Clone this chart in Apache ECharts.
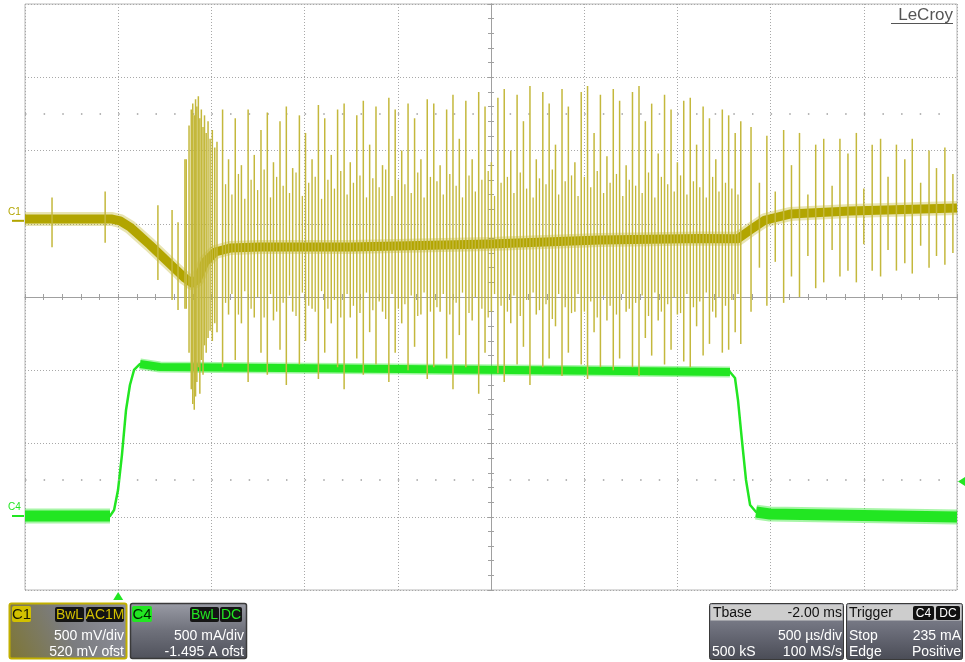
<!DOCTYPE html>
<html><head><meta charset="utf-8">
<script src="https://cdn.jsdelivr.net/npm/echarts@6/dist/echarts.min.js"></script>
<style>html,body{margin:0;padding:0;background:#fff}#c{width:965px;height:662px}</style>
</head><body><div id="c"></div>
<script>
// ---- channel settings (from the scope panels) ----
const c1ScaleMV = 500, c1OffsetMV = 520;      // C1: 500 mV/div, 520 mV ofst
const c4ScaleMA = 500, c4OffsetMA = -1495;    // C4: 500 mA/div, -1.495 A ofst
const tDivUS = 500, tLeftUS = -500;           // 500 µs/div, trigger 1 div from left
const triggerLevelMA = 235;

// ---- C1 trace (time µs, mV) ----
const c1Time = [-500, -33, 10, 63, 171, 278, 358, 396, 423, 466, 520, 600, 761, 1244, 1995, 2585, 3121, 3325, 3390, 3470, 3604, 3926, 4500];
const c1MV   = [12, 12, -1, -42, -165, -295, -391, -425, -404, -281, -213, -186, -179, -179, -158, -131, -120, -122, -63, 5, 46, 67, 87];

// ---- C4 trace (time µs, mA) ----
const c4Time = [-500, -44, -22, -1, 20, 42, 63, 85, 117, 224, 1512, 3282, 3309, 3325, 3346, 3368, 3390, 3422, 3497, 4500];
const c4MA   = [0, 0, 41, 177, 416, 724, 894, 997, 1038, 1017, 1003, 983, 942, 792, 519, 246, 75, 27, 14, -7];

// ---- C1 ringing spikes, main (time µs, top mV, bottom mV) ----
const spikeTime = [-355, -70, 213, 289, 321, 358,
 365, 380, 392, 400, 408, 415, 422, 430, 438, 446, 455, 463, 472, 482, 493, 505, 518, 530,
 560, 592, 628, 661, 697, 730, 766, 800, 833, 868, 902, 936, 972, 1005, 1040, 1074, 1108, 1143, 1177, 1212, 1245, 1280, 1315, 1349, 1383, 1418, 1452, 1486, 1521, 1555, 1590, 1624, 1658, 1693, 1727, 1762, 1796, 1830, 1865, 1899, 1934, 1968, 2002, 2037, 2071, 2106, 2140, 2174, 2209, 2243, 2278, 2312, 2346, 2381, 2415, 2450, 2484, 2518, 2553, 2587, 2622, 2656, 2690, 2725, 2759, 2794, 2828, 2862, 2897, 2931, 2966, 3000, 3034, 3069, 3103, 3138, 3172, 3206, 3241, 3275, 3310, 3340,
 3395, 3440, 3480, 3525, 3570, 3612, 3655, 3700, 3742, 3785, 3830, 3872, 3915, 3960, 4000, 4045, 4090, 4130, 4175, 4220, 4260, 4305, 4350, 4390, 4435, 4478];
const spikeTop = [160, 200, 107, 74, -9, 420,
 420, 650, 760, 800, 720, 830, 780, 850, 700, 760, 640, 720, 600, 680, 560, 620, 500, 540,
 760, 420, 700, 380, 760, 450, 620, 740, 400, 680, 780, 360, 720, 600, 420, 790, 700, 450, 760, 800, 400, 720, 820, 520, 780, 380, 840, 760, 480, 800, 700, 420, 830, 800, 380, 760, 860, 560, 820, 420, 880, 780, 400, 840, 900, 480, 860, 680, 920, 420, 880, 800, 520, 900, 780, 400, 880, 920, 600, 860, 440, 900, 820, 380, 880, 920, 680, 800, 460, 860, 760, 400, 820, 840, 520, 780, 700, 420, 760, 720, 600, 680,
 640, 260, 580, 200, 620, 380, 600, 180, 520, 560, 240, 560, 460, 600, 220, 520, 560, 300, 520, 420, 560, 260, 480, 360, 500, 320];
const spikeBot = [-180, -150, -404, -541, -609, -600,
 -600, -900, -1150, -1250, -1290, -1200, -1100, -1000, -1180, -950, -1050, -850, -900, -800, -750, -820, -700, -760,
 -1000, -640, -950, -700, -1100, -660, -900, -1050, -680, -880, -1120, -620, -980, -820, -600, -1080, -900, -700, -1000, -1150, -660, -940, -1050, -760, -980, -620, -1100, -900, -700, -1020, -860, -640, -1080, -1000, -620, -940, -1150, -780, -1000, -680, -1180, -900, -620, -1040, -1100, -700, -980, -860, -1120, -640, -1000, -940, -720, -1060, -900, -620, -980, -1080, -760, -1000, -680, -1020, -940, -620, -1000, -1060, -800, -920, -680, -980, -880, -640, -960, -1000, -720, -920, -840, -660, -900, -880, -760, -840,
 -620, -320, -580, -280, -560, -380, -520, -240, -460, -420, -200, -380, -340, -420, -160, -340, -380, -200, -340, -290, -360, -170, -320, -240, -300, -220];

// ---- C1 ringing spikes, smaller ones in between ----
const minorTime = [576, 610, 645, 679, 713, 748, 783, 817, 850, 885, 919, 954, 988, 1022, 1057, 1091, 1125, 1160, 1194, 1228, 1262, 1297, 1332, 1366, 1400, 1435, 1469, 1503, 1538, 1572, 1607, 1641, 1675, 1710, 1744, 1779, 1813, 1847, 1882, 1916, 1951, 1985, 2019, 2054, 2088, 2123, 2157, 2191, 2226, 2260, 2295, 2329, 2363, 2398, 2432, 2467, 2501, 2535, 2570, 2604, 2639, 2673, 2707, 2742, 2776, 2811, 2845, 2879, 2914, 2948, 2983, 3017, 3051, 3086, 3120, 3155, 3189, 3223, 3258, 3292, 3325];
const minorTop  = [250, 180, 320, 150, 280, 210, 350, 160, 300, 240, 190, 330, 170, 260, 300, 150, 280, 220, 340, 180, 260, 310, 160, 290, 230, 350, 170, 280, 250, 190, 330, 160, 300, 270, 180, 320, 240, 160, 310, 200, 280, 340, 170, 260, 300, 190, 330, 220, 160, 290, 250, 350, 180, 270, 310, 170, 300, 230, 340, 190, 260, 320, 170, 280, 240, 190, 330, 160, 300, 250, 200, 310, 180, 270, 230, 160, 300, 200, 260, 220, 180];
const minorBot  = [-560, -500, -640, -480, -600, -520, -660, -500, -620, -560, -510, -650, -490, -580, -620, -480, -600, -540, -660, -500, -580, -630, -490, -610, -550, -670, -500, -600, -570, -510, -650, -490, -620, -590, -500, -640, -560, -490, -630, -520, -600, -660, -500, -580, -620, -510, -650, -540, -490, -610, -570, -670, -500, -590, -630, -500, -620, -550, -660, -510, -580, -640, -500, -600, -560, -510, -650, -490, -620, -570, -520, -630, -500, -590, -550, -490, -620, -520, -580, -540, -500];

const C1_COLOR = '#b2a500', SPIKE_COLOR = '#c4b83c', C4_COLOR = '#22e622';
const FONT = '"Liberation Sans", Arial, sans-serif';

const chart = echarts.init(document.getElementById('c'));
const zip2 = (a, b) => a.map((v, i) => [v, b[i]]);
const zip3 = (a, b, c) => a.slice(0, Math.min(a.length, b.length, c.length)).map((v, i) => [v, b[i], c[i]]);
const spikes = zip3(spikeTime, spikeTop, spikeBot);
const minorSpikes = zip3(minorTime, minorTop, minorBot);

const c1Data = zip2(c1Time, c1MV);
const c4Data = zip2(c4Time, c4MA);
// flat (noisy, thick) parts of C4 vs. fast edges
const c4LowA = c4Data.slice(0, 2), c4High = c4Data.slice(8, 12), c4LowB = c4Data.slice(17);

const gridLine = '#a8a8a8';
const decoX = (pos) => ({
  type: 'value', min: -5, max: 5, interval: 1, position: pos,
  axisLine: { show: true, onZero: true, onZeroAxisIndex: 0, lineStyle: { color: '#a0a0a0', width: 1 } },
  axisTick: { show: true, length: 3, lineStyle: { color: '#a0a0a0' } },
  minorTick: { show: true, splitNumber: 5, length: 3, lineStyle: { color: '#a0a0a0' } },
  splitLine: { show: pos === 'bottom', lineStyle: { color: gridLine, type: [1, 2], width: 1 } },
  axisLabel: { show: false }
});
const decoY = (pos) => ({
  type: 'value', min: -4, max: 4, interval: 1, position: pos,
  axisLine: { show: true, onZero: true, onZeroAxisIndex: 0, lineStyle: { color: '#a0a0a0', width: 1 } },
  axisTick: { show: true, length: 3, lineStyle: { color: '#a0a0a0' } },
  minorTick: { show: true, splitNumber: 5, length: 3, lineStyle: { color: '#a0a0a0' } },
  splitLine: { show: pos === 'left', lineStyle: { color: gridLine, type: [1, 2], width: 1 } },
  axisLabel: { show: false }
});

const lineSeries = (data, width, color, yIdx, z, opacity) => ({
  type: 'line', data, xAxisIndex: 2, yAxisIndex: yIdx, showSymbol: false, symbol: 'none',
  lineStyle: { color, width, join: 'round', cap: 'butt', opacity: opacity == null ? 1 : opacity }, z, silent: true, smooth: false
});
const spikeSeries = (data, color, width) => ({
  type: 'custom', xAxisIndex: 2, yAxisIndex: 2, data, z: 5, silent: true, clip: true,
  renderItem: (params, api) => {
    const a = api.coord([api.value(0), api.value(1)]);
    const b = api.coord([api.value(0), api.value(2)]);
    return { type: 'line', shape: { x1: a[0], y1: a[1], x2: b[0], y2: b[1] },
      style: { stroke: color, lineWidth: width } };
  }
});

chart.setOption({
  animation: false,
  backgroundColor: '#ffffff',
  grid: { left: 25, right: 8, top: 4, bottom: 72, show: true, borderColor: '#b8b8b8', borderWidth: 1, containLabel: false },
  xAxis: [decoX('bottom'), decoX('top'),
    { type: 'value', min: tLeftUS, max: tLeftUS + 10 * tDivUS, show: false }],
  yAxis: [decoY('left'), decoY('right'),
    { type: 'value', min: -4 * c1ScaleMV - c1OffsetMV, max: 4 * c1ScaleMV - c1OffsetMV, show: false },
    { type: 'value', min: -4 * c4ScaleMA - c4OffsetMA, max: 4 * c4ScaleMA - c4OffsetMA, show: false }],
  series: [
    // dotted rows of sub-division marks at ±2.5 div
    { type: 'line', data: [], xAxisIndex: 0, yAxisIndex: 0, silent: true,
      markLine: { symbol: 'none', silent: true, label: { show: false },
        lineStyle: { color: '#a0a0a0', type: [1.5, 17.14], width: 1.5 },
        data: [{ yAxis: 2.5 }, { yAxis: -2.5 }] } },
    lineSeries(c1Data, 14, C1_COLOR, 2, 3, 0.3),
    lineSeries(c1Data, 9, C1_COLOR, 2, 3),
    lineSeries(c4Data, 2.5, C4_COLOR, 3, 4),
    lineSeries(c4LowA, 15, C4_COLOR, 3, 4, 0.4),
    lineSeries(c4LowA, 11, C4_COLOR, 3, 4),
    lineSeries(c4High, 11, C4_COLOR, 3, 4, 0.4),
    lineSeries(c4High, 8, C4_COLOR, 3, 4),
    lineSeries(c4LowB, 15, C4_COLOR, 3, 4, 0.4),
    lineSeries(c4LowB, 11, C4_COLOR, 3, 4),
    spikeSeries(minorSpikes, SPIKE_COLOR, 1.3),
    spikeSeries(spikes, SPIKE_COLOR, 1.5)
  ]
});

// ---- scope UI overlay ----
function txt(x, y, s, color, size, align, weight) {
  return { type: 'text', x, y, silent: true, z: 20,
    style: { text: s, fill: color, font: `${weight || 'normal'} ${size}px ${FONT}`,
      align: align || 'left', textAlign: align || 'left', verticalAlign: 'middle', textVerticalAlign: 'middle' } };
}
function rect(x, y, w, h, fill, stroke, lw, r) {
  return { type: 'rect', silent: true, z: 19, shape: { x, y, width: w, height: h, r: r || 0 },
    style: { fill, stroke: stroke || null, lineWidth: lw || 0 } };
}
function badge(x, y, w, h, bg, fg, s, size) {
  return [rect(x, y, w, h, bg, null, 0, 2), txt(x + w / 2, y + h / 2 + 0.5, s, fg, size || 14, 'center')];
}
const LG = (x0, y0, x1, y1, stops) => new echarts.graphic.LinearGradient(x0, y0, x1, y1, stops.map((c, i) => ({ offset: i / (stops.length - 1), color: c })));

const c1Zero = chart.convertToPixel({ yAxisIndex: 2 }, 0);
const c4Zero = chart.convertToPixel({ yAxisIndex: 3 }, 0);
const trigY = chart.convertToPixel({ yAxisIndex: 3 }, triggerLevelMA);
const trigX = chart.convertToPixel({ xAxisIndex: 2 }, 0);
const plotBottom = 590;

const g = [];
// channel zero markers
g.push(txt(8, c1Zero - 9, 'C1', C1_COLOR, 10, 'left'));
g.push({ type: 'line', silent: true, z: 20, shape: { x1: 12, y1: c1Zero, x2: 24, y2: c1Zero }, style: { stroke: C1_COLOR, lineWidth: 2 } });
g.push(txt(8, c4Zero - 9, 'C4', C4_COLOR, 10, 'left'));
g.push({ type: 'line', silent: true, z: 20, shape: { x1: 12, y1: c4Zero, x2: 24, y2: c4Zero }, style: { stroke: C4_COLOR, lineWidth: 2 } });
// trigger time / level markers
g.push({ type: 'polygon', silent: true, z: 20, shape: { points: [[trigX - 5, plotBottom + 10], [trigX + 5, plotBottom + 10], [trigX, plotBottom + 2]] }, style: { fill: C4_COLOR } });
g.push({ type: 'polygon', silent: true, z: 20, shape: { points: [[958, trigY], [965, trigY - 4.5], [965, trigY + 4.5]] }, style: { fill: C4_COLOR } });
// brand
g.push(txt(953, 15, 'LeCroy', '#555555', 17, 'right'));
g.push({ type: 'line', silent: true, z: 20, shape: { x1: 891, y1: 23.5, x2: 953, y2: 23.5 }, style: { stroke: '#555555', lineWidth: 1 } });

// C1 panel
g.push(rect(9.5, 603.5, 117, 55, LG(1, 0, 0, 1, ['#8e909c', '#7b7c80', '#7e7632']), '#c2b000', 2, 2));
g.push(...badge(12, 606, 19, 16, '#d2c000', '#1a1a00', 'C1', 15));
g.push(...badge(55, 607, 29, 15, '#141414', '#d2c000', 'BwL', 14));
g.push(...badge(86, 607, 38, 15, '#141414', '#d2c000', 'AC1M', 14));
g.push(txt(124, 636, '500 mV/div', '#ffffff', 14, 'right'));
g.push(txt(124, 652, '520 mV ofst', '#ffffff', 14, 'right'));
// C4 panel
g.push(rect(130.5, 603.5, 116, 55, LG(0, 0, 0, 1, ['#9a9ca6', '#6e707a', '#4f515b']), '#3a3a3a', 1.5, 2));
g.push(...badge(132, 606, 20, 16, '#22e622', '#002200', 'C4', 15));
g.push(...badge(190, 607, 29, 15, '#141414', '#22e622', 'BwL', 14));
g.push(...badge(220, 607, 22, 15, '#141414', '#22e622', 'DC', 14));
g.push(txt(244, 636, '500 mA/div', '#ffffff', 14, 'right'));
g.push(txt(244, 652, '-1.495 A ofst', '#ffffff', 14, 'right'));
// Tbase panel
g.push(rect(709.5, 603.5, 134, 56, LG(0, 0, 0, 1, ['#8a8c98', '#6a6c78', '#4a4c56']), '#3a3a3a', 1, 2));
g.push(rect(710.5, 604.5, 132, 16, '#cdcdcd', null, 0, 0));
g.push(txt(713, 613, 'Tbase', '#111111', 14, 'left'));
g.push(txt(842, 613, '-2.00 ms', '#111111', 14, 'right'));
g.push(txt(842, 636, '500 µs/div', '#ffffff', 14, 'right'));
g.push(txt(712, 652, '500 kS', '#ffffff', 14, 'left'));
g.push(txt(842, 652, '100 MS/s', '#ffffff', 14, 'right'));
// Trigger panel
g.push(rect(846.5, 603.5, 116, 56, LG(0, 0, 0, 1, ['#8a8c98', '#6a6c78', '#4a4c56']), '#3a3a3a', 1, 2));
g.push(rect(847.5, 604.5, 114, 16, '#cdcdcd', null, 0, 0));
g.push(txt(849, 613, 'Trigger', '#111111', 14, 'left'));
g.push(...badge(913, 606, 21, 14, '#111111', '#ffffff', 'C4', 12));
g.push(...badge(936, 606, 24, 14, '#111111', '#ffffff', 'DC', 12));
g.push(txt(849, 636, 'Stop', '#ffffff', 14, 'left'));
g.push(txt(961, 636, '235 mA', '#ffffff', 14, 'right'));
g.push(txt(849, 652, 'Edge', '#ffffff', 14, 'left'));
g.push(txt(961, 652, 'Positive', '#ffffff', 14, 'right'));

chart.setOption({ graphic: { elements: g } });
</script></body></html>
